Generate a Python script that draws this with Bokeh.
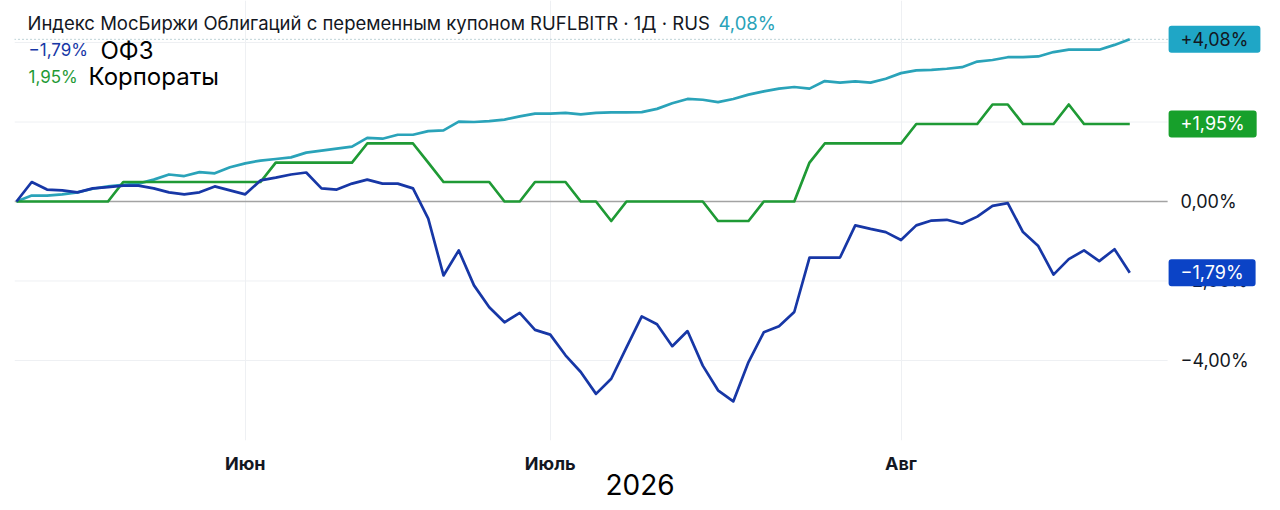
from bokeh.plotting import figure
from bokeh.models import Range1d, FixedTicker, Label
from bokeh.core.properties import value
from bokeh.embed import file_html
from bokeh.resources import INLINE

# ---------------- data (trading-day index, % change) ----------------
day_idx = list(range(74))

ofz = [0.00, 0.49, 0.30, 0.28, 0.23, 0.33, 0.36, 0.40, 0.40, 0.33,
       0.23, 0.18, 0.23, 0.38, 0.28, 0.18, 0.53, 0.60, 0.68, 0.73,
       0.33, 0.30, 0.45, 0.55, 0.45, 0.45, 0.33, -0.43, -1.86, -1.23,
       -2.11, -2.66, -3.04, -2.80, -3.23, -3.35, -3.87, -4.29, -4.84, -4.46,
       -3.67, -2.89, -3.09, -3.64, -3.26, -4.13, -4.75, -5.03, -4.04, -3.29,
       -3.14, -2.78, -1.41, -1.41, -1.41, -0.60, -0.69, -0.77, -0.97, -0.60,
       -0.48, -0.46, -0.56, -0.38, -0.11, -0.04, -0.77, -1.12, -1.84, -1.45,
       -1.23, -1.50, -1.20, -1.79]

corp = [0, 0, 0, 0, 0, 0, 0,
        0.49, 0.49, 0.49, 0.49, 0.49, 0.49, 0.49, 0.49, 0.49, 0.49,
        0.98, 0.98, 0.98, 0.98, 0.98, 0.98,
        1.46, 1.46, 1.46, 1.46,
        0.98,
        0.49, 0.49, 0.49, 0.49,
        0, 0,
        0.49, 0.49, 0.49,
        0, 0,
        -0.49,
        0, 0, 0, 0, 0, 0,
        -0.49, -0.49, -0.49,
        0, 0, 0,
        0.98,
        1.46, 1.46, 1.46, 1.46, 1.46, 1.46,
        1.95, 1.95, 1.95, 1.95, 1.95,
        2.44, 2.44,
        1.95, 1.95, 1.95,
        2.44,
        1.95, 1.95, 1.95, 1.95]

floater = [0.00, 0.15, 0.15, 0.18, 0.23, 0.32, 0.38, 0.42, 0.45, 0.55,
           0.68, 0.64, 0.74, 0.71, 0.86, 0.96, 1.03, 1.07, 1.11, 1.23,
           1.28, 1.33, 1.38, 1.60, 1.58, 1.68, 1.68, 1.77, 1.79, 2.01,
           2.00, 2.02, 2.06, 2.14, 2.21, 2.21, 2.23, 2.19, 2.23, 2.24,
           2.24, 2.25, 2.33, 2.47, 2.58, 2.56, 2.50, 2.58, 2.69, 2.77,
           2.84, 2.88, 2.84, 3.03, 2.99, 3.02, 2.99, 3.09, 3.23, 3.30,
           3.31, 3.34, 3.38, 3.52, 3.56, 3.63, 3.63, 3.65, 3.76, 3.82,
           3.82, 3.82, 3.94, 4.08]

month_pos = [15, 35, 58]
month_names = ["Июн", "Июль", "Авг"]
y_ticks = [-4, -2, 0, 2, 4]
year_text = "2026"
title_text = "Индекс МосБиржи Облигаций с переменным купоном RUFLBITR · 1Д · RUS"
name_ofz = "ОФЗ"
name_corp = "Корпораты"

# ---------------- styles ----------------
FONT = "Inter"
TEXT = "#131722"
TEAL = "#2aa3b9"
TEAL_BOX = "#1fa6c6"
GREEN = "#1f9a35"
GREEN_BOX = "#17a02b"
BLUE = "#1737a6"
BLUE_BOX = "#0b43c6"
GRID = "#eef0f3"


def pct(v, sign=False):
    s = f"{abs(v):.2f}".replace(".", ",") + "%"
    if v < 0:
        return "\u2212" + s
    if sign and v > 0:
        return "+" + s
    return s


# ranges: plot area runs over the price-label column too
X0, X1 = -0.13, 81.90
XB = 75.48            # where the price-label column begins
Y0, Y1 = -6.013, 5.057

p = figure(frame_width=1251, frame_height=440,
           x_range=Range1d(X0, X1), y_range=Range1d(Y0, Y1),
           y_axis_location=None, output_backend="svg", toolbar_location=None,
           min_border_left=14, min_border_right=7, min_border_top=0,
           min_border_bottom=66)
p.outline_line_color = None
p.background_fill_color = "white"
p.border_fill_color = "white"

# x axis: months + year caption
p.xaxis.ticker = FixedTicker(ticks=month_pos)
p.xaxis.major_label_overrides = {m: n for m, n in zip(month_pos, month_names)}
p.xaxis.axis_line_color = None
p.xaxis.major_tick_line_color = None
p.xaxis.minor_tick_line_color = None
p.xaxis.major_tick_out = 0
p.xaxis.major_tick_in = 0
p.xaxis.minor_tick_out = 0
p.xaxis.major_label_standoff = 12
p.xaxis.major_label_text_font = FONT
p.xaxis.major_label_text_font_size = "18px"
p.xaxis.major_label_text_font_style = "bold"
p.xaxis.major_label_text_color = TEXT
p.xaxis.axis_label = year_text
p.xaxis.axis_label_standoff = -3
p.xaxis.axis_label_text_font = FONT
p.xaxis.axis_label_text_font_size = "28px"
p.xaxis.axis_label_text_font_style = "normal"
p.xaxis.axis_label_text_color = "black"

p.xgrid.ticker = FixedTicker(ticks=month_pos)
p.xgrid.grid_line_color = GRID
p.ygrid.grid_line_color = None

# horizontal grid lines and value scale on the right
n = len(y_ticks)
p.segment(x0=[X0] * n, y0=y_ticks, x1=[XB] * n, y1=y_ticks,
          line_color=GRID, line_width=1)
p.text(x=[XB] * n, y=y_ticks, text=[pct(t) for t in y_ticks], x_offset=13,
       text_align="left", text_baseline="middle", text_font=value(FONT),
       text_font_size=value("18px"), text_color=TEXT)

# zero line and last-value dotted line
p.segment(x0=[X0], y0=[0], x1=[XB], y1=[0], line_color="#a3a3a3", line_width=1.5)
p.segment(x0=[X0], y0=[floater[-1]], x1=[XB], y1=[floater[-1]],
          line_color="#7fa8b0", line_width=1, line_dash="1 3")

# series
p.line(day_idx, floater, line_color=TEAL, line_width=2.7, line_join="round")
p.line(day_idx, corp, line_color=GREEN, line_width=2.7, line_join="round")
p.line(day_idx, ofz, line_color=BLUE, line_width=2.7, line_join="round")

# value boxes on the right (anchor is the box's left edge)
for val, tcol, bg in [(floater[-1], TEXT, TEAL_BOX),
                      (corp[-1], "white", GREEN_BOX),
                      (ofz[-1], "white", BLUE_BOX)]:
    p.add_layout(Label(x=XB, y=val, x_offset=1, text=pct(val, sign=True),
                       text_align="left", text_baseline="middle",
                       text_font=FONT, text_font_size="18px", text_color=tcol,
                       background_fill_color=bg, border_line_color=None,
                       padding=dict(left=12, right=12, top=3, bottom=3),
                       border_radius=3))

# header texts
p.add_layout(Label(x=0.72, y=4.50, text=title_text, text_baseline="middle",
                   text_font=FONT, text_font_size="18.5px", text_color=TEXT))
p.add_layout(Label(x=46.03, y=4.50, text=pct(floater[-1]), text_baseline="middle",
                   text_font=FONT, text_font_size="18.5px", text_color=TEAL))
p.add_layout(Label(x=0.79, y=3.80, text=pct(ofz[-1]), text_baseline="middle",
                   text_font=FONT, text_font_size="17px", text_color=BLUE))
p.add_layout(Label(x=5.51, y=3.80, text=name_ofz, text_baseline="middle",
                   text_font=FONT, text_font_size="24px", text_color="black"))
p.add_layout(Label(x=0.79, y=3.14, text=pct(corp[-1]), text_baseline="middle",
                   text_font=FONT, text_font_size="17px", text_color=GREEN))
p.add_layout(Label(x=4.72, y=3.14, text=name_corp, text_baseline="middle",
                   text_font=FONT, text_font_size="24px", text_color="black"))

open("out.html", "w").write(file_html(p, INLINE))
